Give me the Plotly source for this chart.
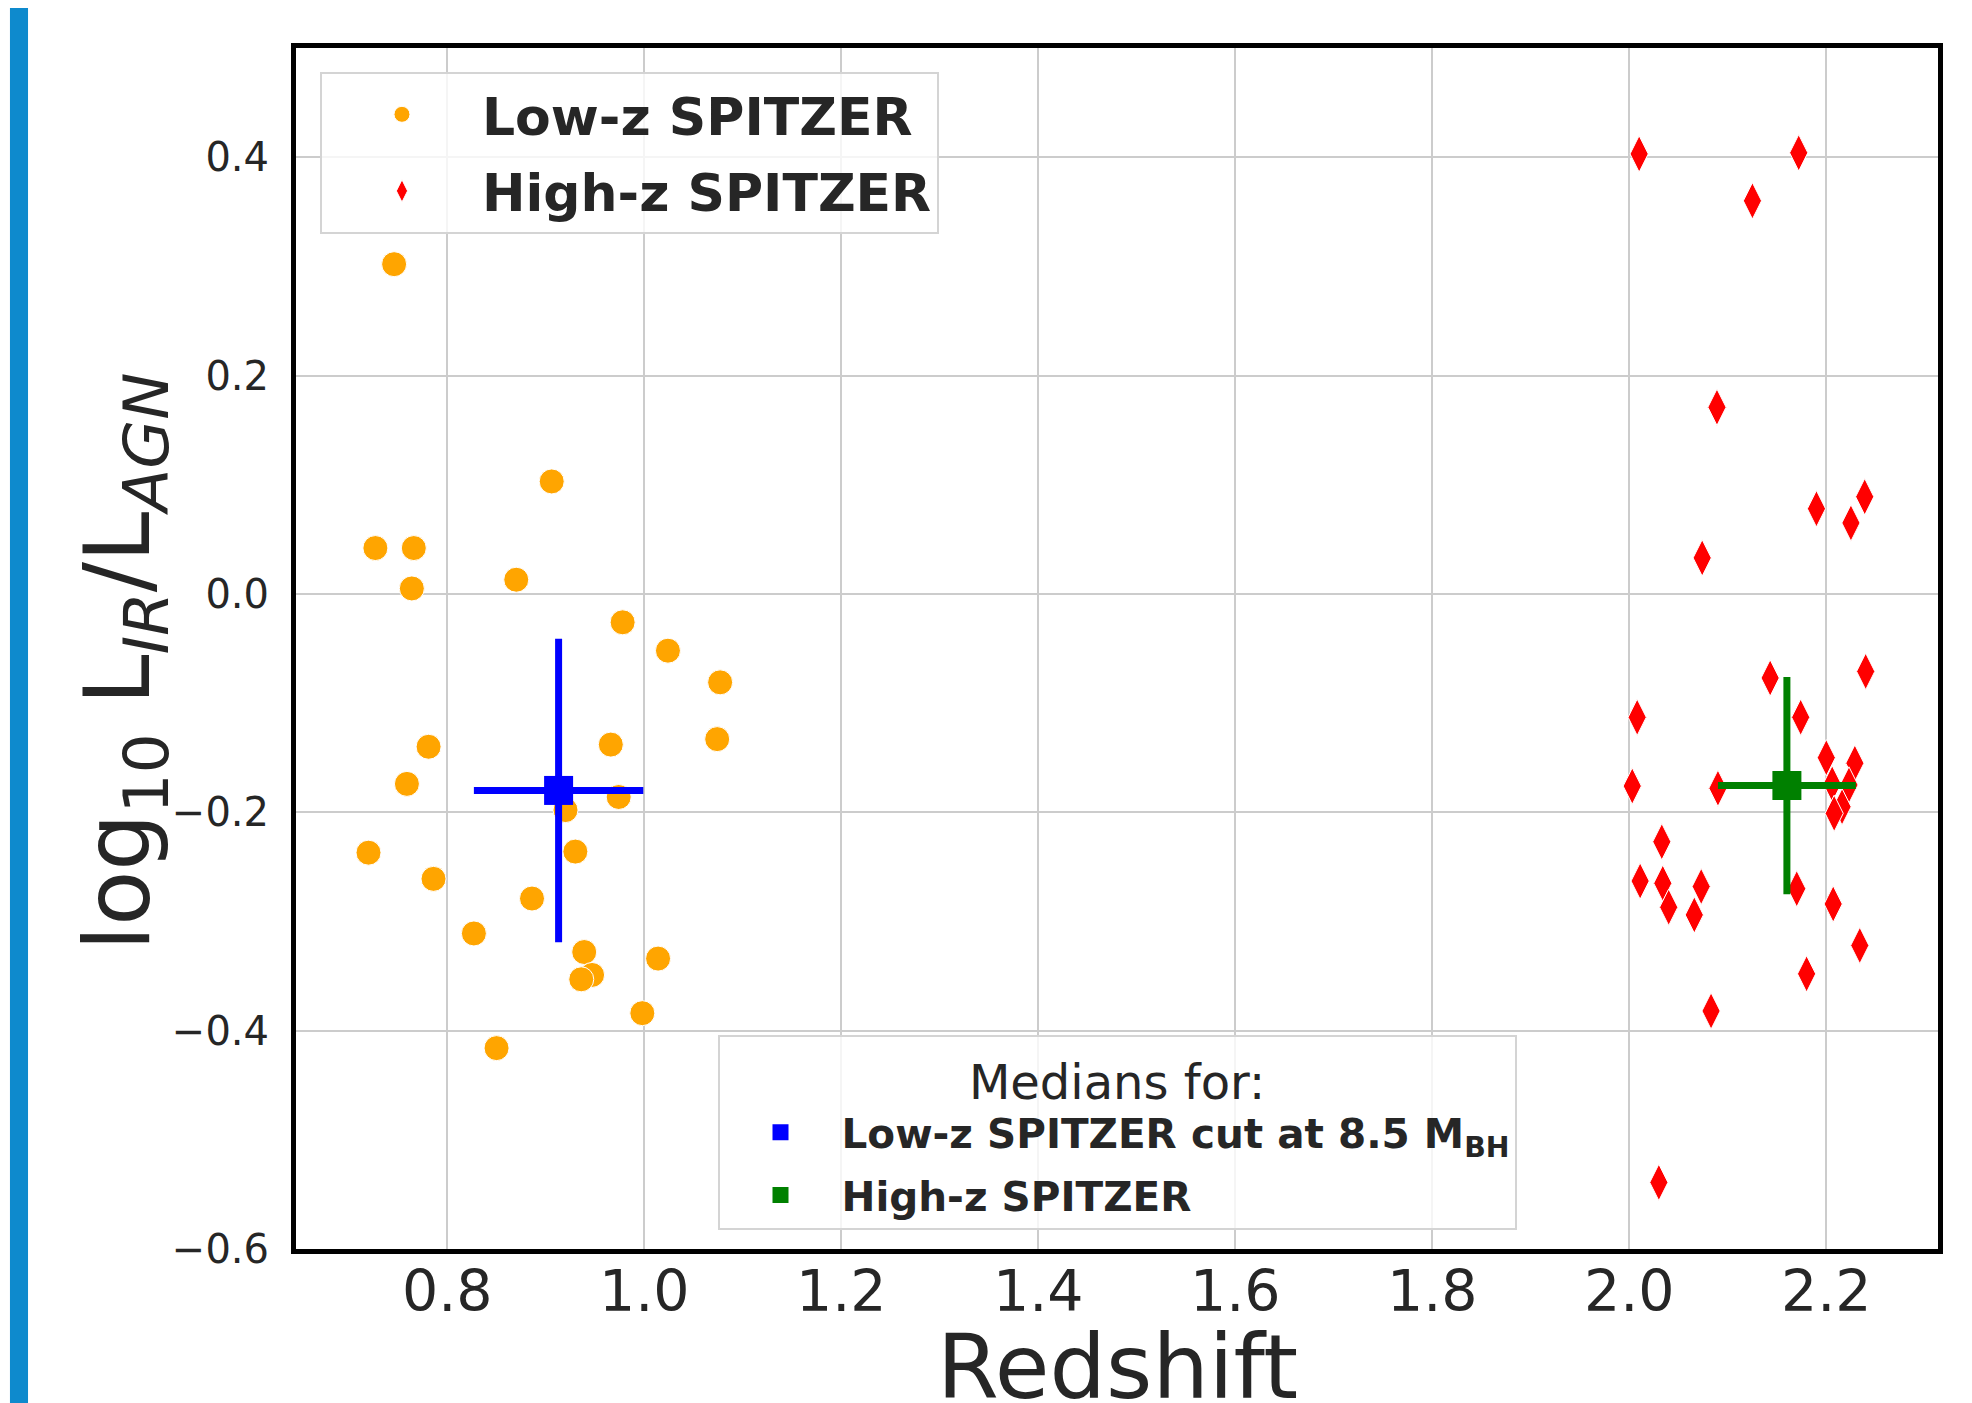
import plotly.graph_objects as go

# ---------------- data ----------------
z_low = [0.746, 0.906, 0.727, 0.766, 0.764, 0.870, 0.978, 1.024, 1.077, 1.074,
         0.966, 0.781, 0.759, 0.974, 0.920, 0.720, 0.930, 0.786, 0.886, 0.827,
         0.939, 0.947, 0.936, 1.014, 0.998, 0.850]
v_low = [0.302, 0.103, 0.042, 0.042, 0.005, 0.013, -0.026, -0.052, -0.081, -0.133,
         -0.138, -0.140, -0.174, -0.186, -0.198, -0.237, -0.236, -0.261, -0.279, -0.311,
         -0.328, -0.349, -0.353, -0.334, -0.384, -0.416]

z_high = [2.010, 2.172, 2.125, 2.089, 2.074, 2.190, 2.225, 2.239, 2.143, 2.240,
          2.008, 2.174, 2.003, 2.090, 2.200, 2.229, 2.206, 2.223, 2.216, 2.208,
          2.033, 2.011, 2.034, 2.040, 2.073, 2.066, 2.170, 2.207, 2.234, 2.180,
          2.083, 2.030]
v_high = [0.403, 0.404, 0.360, 0.171, 0.033, 0.078, 0.065, 0.089, -0.077, -0.071,
          -0.113, -0.113, -0.176, -0.178, -0.150, -0.155, -0.174, -0.175, -0.195, -0.201,
          -0.227, -0.263, -0.265, -0.287, -0.268, -0.294, -0.270, -0.284, -0.322, -0.348,
          -0.382, -0.539]

median_names = ["Low-z SPITZER cut at 8.5 M<sub>BH</sub>", "High-z SPITZER"]
median_z = [0.913, 2.160]
median_v = [-0.180, -0.1755]
median_zerr = [0.086, 0.070]
median_verr = [0.139, 0.0995]

x_ticks = [0.8, 1.0, 1.2, 1.4, 1.6, 1.8, 2.0, 2.2]
y_ticks = [-0.6, -0.4, -0.2, 0.0, 0.2, 0.4]

FONT = "DejaVu Sans"
TXT = "#262626"

fig = go.Figure()
fig.add_trace(go.Scatter(
    x=z_low, y=v_low, mode="markers", name="Low-z SPITZER",
    marker=dict(color="orange", size=25, line=dict(color="white", width=1)),
    legend="legend", legendgroup="g1"))
fig.add_trace(go.Scatter(
    x=z_high, y=v_high, mode="markers", name="High-z SPITZER",
    marker=dict(color="red", size=26, symbol="diamond-tall",
                line=dict(color="white", width=1)),
    legend="legend", legendgroup="g2"))

med_colors = ["blue", "green"]
for i in range(len(median_z)):
    fig.add_trace(go.Scatter(
        x=[median_z[i]], y=[median_v[i]], mode="markers", name=median_names[i],
        marker=dict(color=med_colors[i], size=29, symbol="square", line=dict(width=0)),
        error_x=dict(type="data", array=[median_zerr[i]], color=med_colors[i],
                     thickness=7, width=0),
        error_y=dict(type="data", array=[median_verr[i]], color=med_colors[i],
                     thickness=7, width=0),
        legend="legend2", legendgroup="m%d" % i))

axis_common = dict(showgrid=True, gridcolor="#cccccc", gridwidth=1.5,
                   showline=True, linecolor="black", linewidth=5, mirror=True,
                   ticks="", zeroline=False)

# the page body adds an 8 px offset, so the figure is 8 px smaller than the window
fig.update_layout(
    width=1964, height=1395,
    margin=dict(l=288, r=34, t=40, b=154),
    paper_bgcolor="white", plot_bgcolor="white",
    font=dict(family=FONT, color=TXT),
    xaxis=dict(range=[0.6464, 2.3134], tickvals=x_ticks,
               ticktext=["%.1f" % t for t in x_ticks], ticklabelstandoff=-11,
               tickfont=dict(size=57, family=FONT, color=TXT), **axis_common),
    yaxis=dict(range=[-0.6, 0.5], tickvals=y_ticks,
               ticktext=[("\u2212%.1f" % -t) if t < 0 else "%.1f" % t for t in y_ticks],
               ticklabelstandoff=14,
               tickfont=dict(size=40, family=FONT, color=TXT), **axis_common),
    legend=dict(x=0.0146, y=0.980, xanchor="left", yanchor="top",
                font=dict(family=FONT, size=52, color=TXT, weight="bold"),
                bgcolor="rgba(255,255,255,0.8)", bordercolor="#d4d4d4", borderwidth=2,
                itemwidth=150, tracegroupgap=6),
    legend2=dict(x=0.5, y=0.0158, xanchor="center", yanchor="bottom",
                 title=dict(text="Medians for:", side="top center",
                            font=dict(family=FONT, size=48, color=TXT, weight="normal")),
                 font=dict(family=FONT, size=40.5, color=TXT, weight="bold"),
                 bgcolor="rgba(255,255,255,0.8)", bordercolor="#d4d4d4", borderwidth=2,
                 itemwidth=112, tracegroupgap=7),
    showlegend=True,
)

# axis titles as annotations for precise placement
fig.add_annotation(text="Redshift", xref="paper", yref="paper", x=0.5, y=-0.0983,
                   xanchor="center", yanchor="middle", showarrow=False,
                   font=dict(family=FONT, size=89, color=TXT))
fig.add_annotation(text="log<sub>10</sub> L<sub><i>IR</i></sub>/L<sub><i>AGN</i></sub>",
                   xref="paper", yref="paper", x=-0.1049, y=0.4888,
                   xanchor="center", yanchor="middle", textangle=-90, showarrow=False,
                   font=dict(family=FONT, size=90, color=TXT))

# blue stripe at the left page edge
fig.add_shape(type="rect", xref="paper", yref="paper",
              x0=-0.1742, x1=-0.1632, y0=-0.14, y1=1.05,
              fillcolor="#0e8acd", line=dict(width=0), layer="above")

fig.write_html("out.html")
